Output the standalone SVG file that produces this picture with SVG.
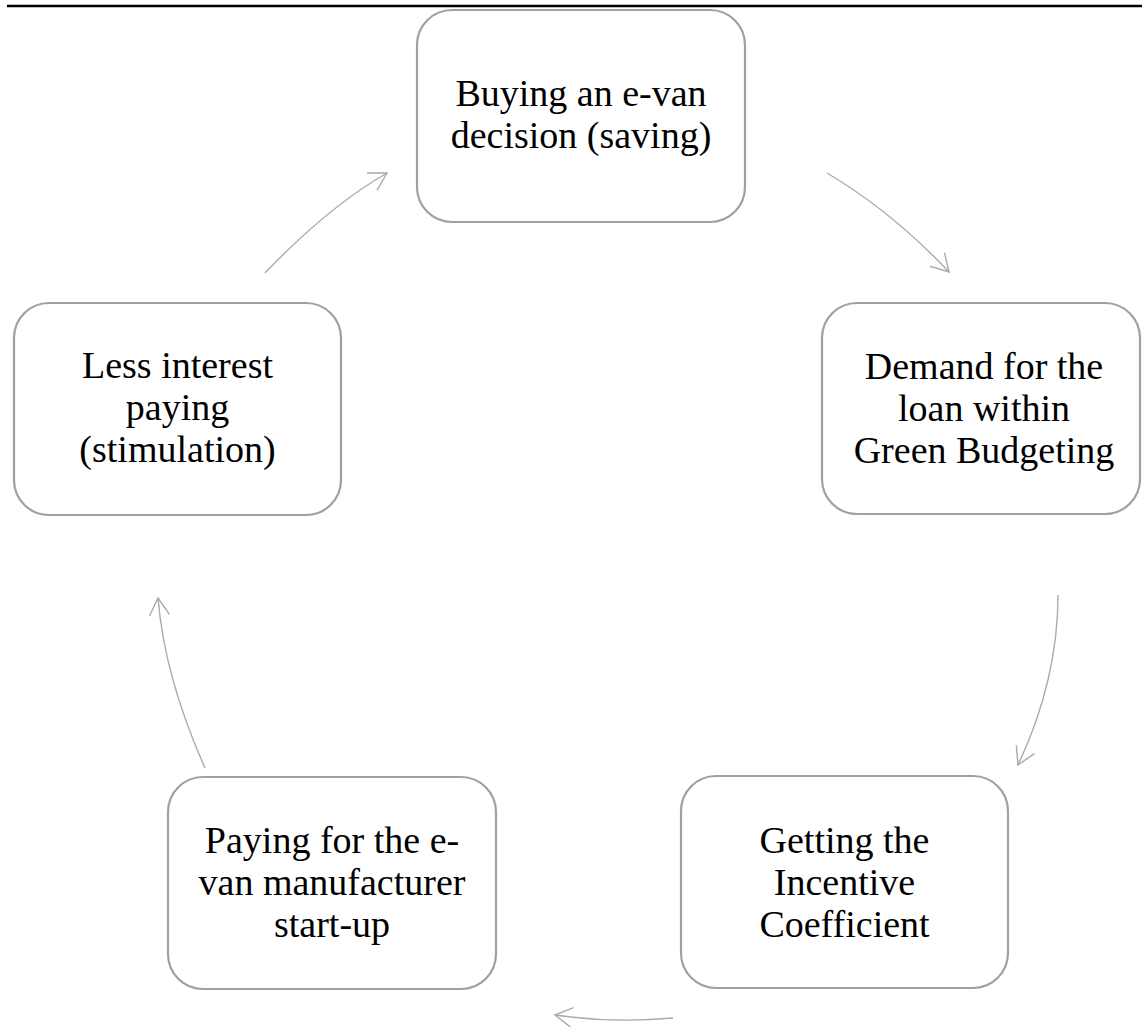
<svg xmlns="http://www.w3.org/2000/svg" width="1142" height="1027" viewBox="0 0 1142 1027">
<style>
.node rect{fill:#ffffff;stroke:#a0a0a0;stroke-width:2.2}
.node text{font-family:"Liberation Serif","Times New Roman",serif;font-size:38px;fill:#000000;text-anchor:middle}
.conn path{fill:none;stroke:#ababab;stroke-width:1.4}
</style>
<defs>
<marker id="arr" markerUnits="userSpaceOnUse" viewBox="-20 -12 22 24" refX="0" refY="0" markerWidth="22" markerHeight="24" orient="auto" overflow="visible">
<path d="M-17.3,-10 L0,0 L-17.3,10" fill="none" stroke="#ababab" stroke-width="1.4"/>
</marker>
</defs>
<rect width="1142" height="1027" fill="#ffffff"/>
<line x1="7" y1="6" x2="1142" y2="6" stroke="#000000" stroke-width="2.5"/>
<g class="conn" id="connectors">
<path d="M265,273 Q328,207 387,173" marker-end="url(#arr)"/>
<path d="M827,173 Q892,211.5 949,272" marker-end="url(#arr)"/>
<path d="M1058,595 Q1058,680 1018,765" marker-end="url(#arr)"/>
<path d="M673,1018 Q614,1023.5 555,1015" marker-end="url(#arr)"/>
<path d="M205,768 Q164.5,677 158,598" marker-end="url(#arr)"/>
</g>
<g class="node" id="node-buying">
<rect x="417" y="10" width="328" height="212" rx="35" ry="35"/>
<text x="581" y="106"><tspan x="581" y="106">Buying an e-van</tspan><tspan x="581" y="148">decision (saving)</tspan></text>
</g>
<g class="node" id="node-demand">
<rect x="822" y="303" width="318" height="211" rx="35" ry="35"/>
<text x="984" y="379"><tspan x="984" y="379">Demand for the</tspan><tspan x="984" y="421">loan within</tspan><tspan x="984" y="463">Green Budgeting</tspan></text>
</g>
<g class="node" id="node-getting">
<rect x="681" y="776" width="327" height="212" rx="35" ry="35"/>
<text x="844.5" y="853"><tspan x="844.5" y="853">Getting the</tspan><tspan x="844.5" y="895">Incentive</tspan><tspan x="844.5" y="937">Coefficient</tspan></text>
</g>
<g class="node" id="node-paying">
<rect x="168" y="777" width="328" height="212" rx="35" ry="35"/>
<text x="332" y="853"><tspan x="332" y="853">Paying for the e-</tspan><tspan x="332" y="895">van manufacturer</tspan><tspan x="332" y="937">start-up</tspan></text>
</g>
<g class="node" id="node-less">
<rect x="14" y="303" width="327" height="212" rx="35" ry="35"/>
<text x="177.5" y="378"><tspan x="177.5" y="378">Less interest</tspan><tspan x="177.5" y="420">paying</tspan><tspan x="177.5" y="462">(stimulation)</tspan></text>
</g>
</svg>
